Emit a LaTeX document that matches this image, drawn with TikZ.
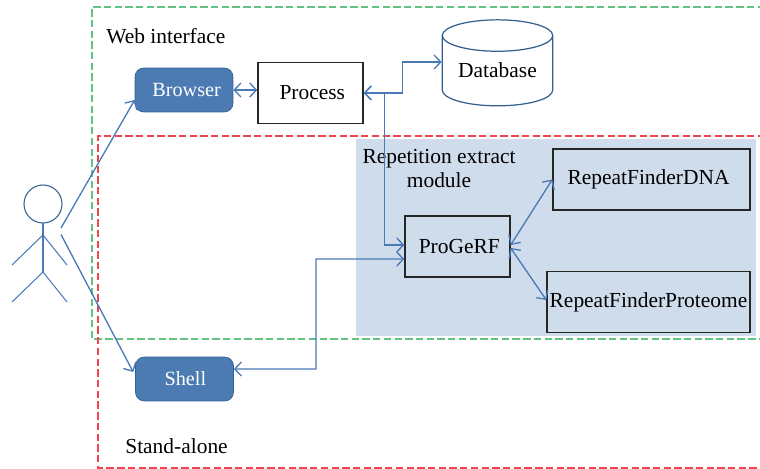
\documentclass[tikz,border=0pt]{standalone}
\usepackage{fontspec}
\setmainfont{Liberation Serif}
\usetikzlibrary{arrows.meta,shapes.geometric}
\definecolor{linkblue}{HTML}{4A7AB5}
\definecolor{boxblue}{HTML}{4C7BB3}
\definecolor{edgeblue}{HTML}{33618F}
\definecolor{areablue}{HTML}{CFDCEC}
\definecolor{webgreen}{HTML}{62C283}
\definecolor{alonered}{HTML}{F0444F}
\tikzset{
	every node/.style={font=\fontsize{12.2}{13.5}\selectfont},
	roundbox/.style={draw=edgeblue,fill=boxblue,text=white,rounded corners=5pt,minimum width=1.96cm,minimum height=.88cm,inner sep=0pt,font=\fontsize{11.5}{13}\selectfont},
	plainbox/.style={draw=black!85,thick,minimum height=1.22cm,inner sep=0pt},
	link/.style={linkblue,line width=.75pt},
	frameline/.style={line width=1.1pt,dash pattern=on 4.2pt off 1.9pt}
}
\newcommand{\drawactor}[2]
{\begin{scope}[shift={(#1,#2)},edgeblue,line width=.6pt]
	\draw (0,0) circle (19);
	\draw[linkblue] (0,19)--(0,68);
	\draw[linkblue] (-31,61)--(0,31)--(24,61);
	\draw[linkblue] (-31,98)--(0,68)--(24,98);
	\end{scope}
}
\begin{document}
\begin{tikzpicture}[x={(.02cm,0)},y={(0,-.02cm)}, >={Straight Barb[length=3.8pt,width=8pt]}]
\useasboundingbox (0,0) rectangle (760,469);

\node[fill=areablue,minimum width=8cm,minimum height=3.94cm,inner sep=0pt] (area) at (556,237.5) {};

% frames run off the right side
\draw[webgreen,frameline] (765,7) -- (92,7) -- (92,339) -- (765,339);
\draw[alonered,frameline] (765,136) -- (98,136) -- (98,468) -- (765,468);

\node[anchor=west,inner sep=0pt] (web) at (106,36) {Web interface};
\node[anchor=west,inner sep=0pt] (alone) at (125,446) {Stand-alone};
\node[align=center,inner sep=0pt] (module) at (439,168.5) {Repetition extract\\module};

\node[roundbox] (browser) at (184,90) {\hspace{3pt}\raisebox{-.02cm}{Browser}};
\node[roundbox] (shell) at (184.5,379) {\hspace{1pt}\raisebox{.02cm}{Shell}};
\node[plainbox,fill=white,minimum width=2.1cm] (process) at (310.5,93) {\hspace{2pt}Process};
\node[draw=edgeblue,line width=.7pt,fill=white,cylinder,shape border rotate=90,aspect=.4,minimum width=2.21cm,minimum height=1.72cm,inner sep=0pt] (database) at (497.5,71) {\raisebox{.04cm}{Database}};
\node[plainbox,minimum width=2.1cm] (progerf) at (457.5,246.5) {\hspace{2pt}ProGeRF};
\node[plainbox,minimum width=3.94cm] (finderdna) at (651.5,179.5) {\hspace{-3.4pt}RepeatFinderDNA};
\node[plainbox,minimum width=4.06cm] (finderprot) at (648.5,302) {RepeatFinderProteome};

\drawactor{43}{204};
\coordinate (actorup) at (61,228);
\coordinate (actordown) at (61,234.5);

\draw[link,->] (actorup) -- ([yshift=-.2cm]browser.west);
\draw[link,->] (actordown) -- ([xshift=-.04cm,yshift=.14cm]shell.west);
\draw[link,<->] (browser.east) -- (browser.east-|process.west);
\draw[link,<->] (process.east) -- ++(39,0) |- ([yshift=.18cm]database.west);
\draw[link,<->] (process.east) -- ++(21,0) |- ([yshift=.03cm]progerf.west);
\draw[link,<->] ([yshift=-.25cm]progerf.west) -| (316,369) -- ([yshift=.2cm]shell.east);
\draw[link,<->] ([yshift=.03cm]progerf.east) -- (finderdna.west);
\draw[link,<->] ([yshift=-.03cm]progerf.east) -- ([yshift=.04cm]finderprot.west);

\end{tikzpicture}
\end{document}
